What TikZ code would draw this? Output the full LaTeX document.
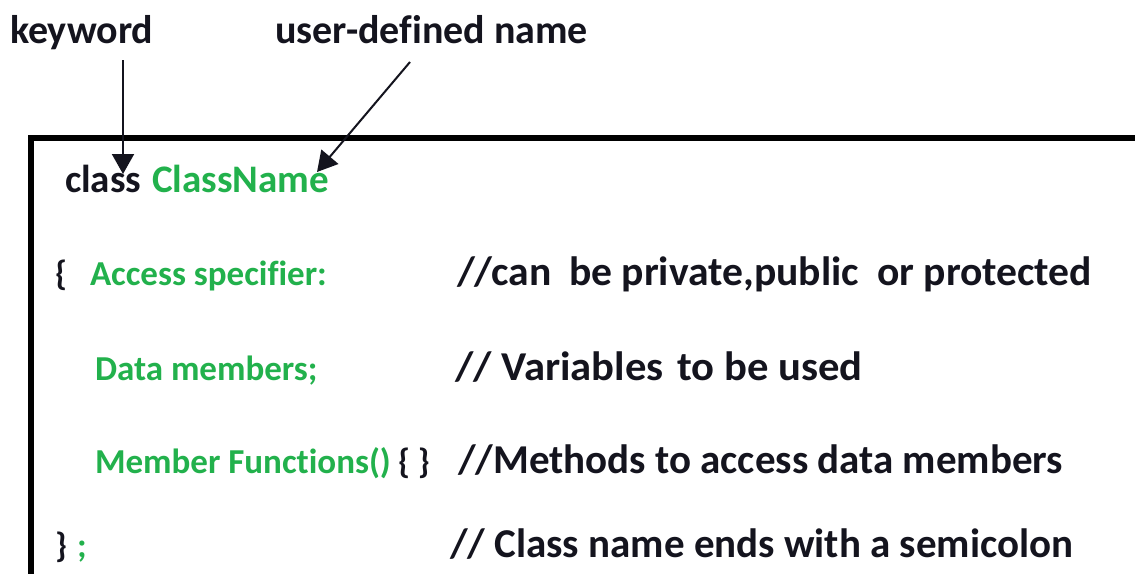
\documentclass[tikz,border=0pt]{standalone}
\usepackage{fontspec}
\setmainfont[Ligatures=CommonOff]{Carlito}
\usetikzlibrary{arrows.meta}
\definecolor{codegreen}{RGB}{34,177,76}
\definecolor{ink}{RGB}{20,20,30}
\tikzset{
  lbl/.style={anchor=base west, inner sep=0pt, outer sep=0pt, font=\fontsize{40}{46}\selectfont\bfseries, text=ink},
  code/.style={anchor=base west, inner sep=0pt, outer sep=0pt, font=\fontsize{35}{42}\selectfont\bfseries, text=ink},
  head/.style={anchor=base west, inner sep=0pt, outer sep=0pt, font=\fontsize{39}{45}\selectfont\bfseries, text=ink},
  cmt/.style={anchor=base west, inner sep=0pt, outer sep=0pt, font=\fontsize{41}{47}\selectfont\bfseries, text=ink},
  grn/.style={text=codegreen},
  pointer/.style={draw=ink, line width=2pt, -{Triangle[length=20pt,width=22pt]}},
  frame/.style={draw=black, line width=6pt}
}
\begin{document}
\begin{tikzpicture}[x=1pt,y=-1pt]
\useasboundingbox (0,0) rectangle (1135,573);
\fill[white] (0,0) rectangle (1135,573);
% frame
\draw[frame] (31,590) -- (31,138) -- (1150,138);
% headers
\node[lbl] (kw) at (10,43) {keyword};
\node[lbl] (ud) at (275,43) {user-defined name};
% code lines
\node[head] (kwclass) at (65,192) {class};
\node[head,grn] (cname) at (152,192) {ClassName};
\node[code] (ob) at (55,285) {\{};
\node[code,grn] (acc) at (90,285) {Access specifier:};
\node[cmt,xscale=1.015] (c1) at (457,285) {//can\hspace{17pt}be private,public\hspace{18pt}or protected};
\node[code,grn] (dm) at (95,380) {Data members;};
\node[cmt,xscale=1.04] (c2) at (455,380) {// Variables\hspace{13pt}to be used};
\node[code,grn] (mf) at (95,473) {Member Functions()};
\node[code] (br) at (398,473) {\{ \}};
\node[cmt] (c3) at (458,473) {//Methods to access data members};
\node[cmt] (c4) at (450,557) {// Class name ends with a semicolon};
\node[code] (cb) at (55,557) {\}\hspace{10pt}\textcolor{codegreen}{;}};
% connectors
\coordinate (kwtail) at (123,60);
\coordinate (kwtip) at (123,174);
\coordinate (udtail) at (410,62);
\coordinate (udtip) at (317,172);
\draw[pointer] (kwtail) -- (kwtip);
\draw[pointer] (udtail) -- (udtip);
\end{tikzpicture}
\end{document}
